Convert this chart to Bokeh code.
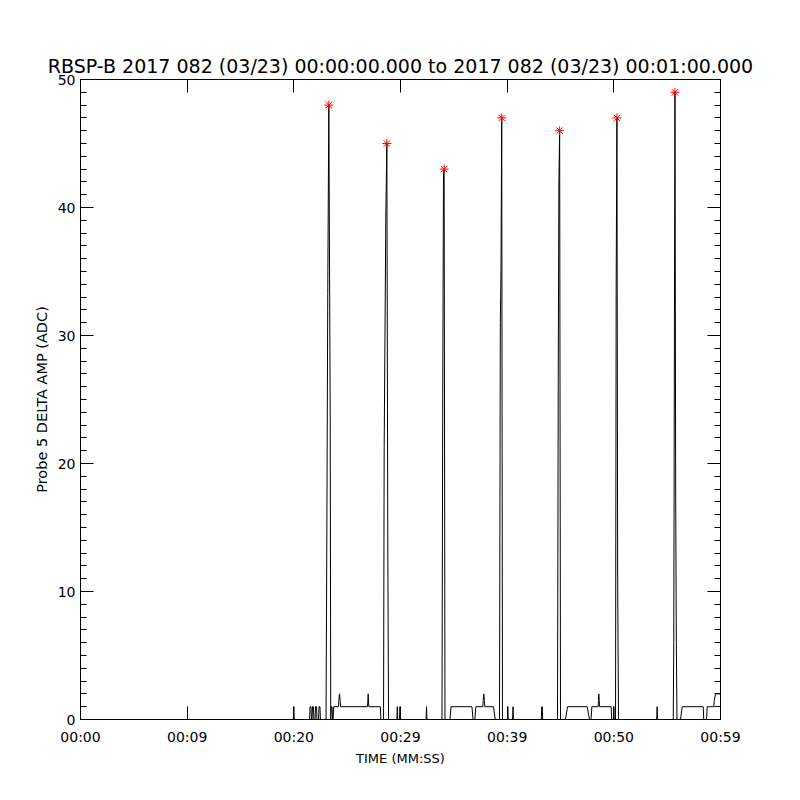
from bokeh.plotting import figure
from bokeh.models import LinearAxis, FixedTicker, Range1d, CustomLabelingPolicy
from bokeh.embed import file_html
from bokeh.resources import INLINE

# ---- data (seconds after 00:00:00, ADC) ----
t = [0.0, 19.96, 20.00, 20.04,
     21.48, 21.52, 21.61, 21.65, 21.71, 21.75, 21.84, 21.88,
     21.99, 22.03, 22.13, 22.17, 22.32, 22.36, 22.45, 22.49,
     23.02, 23.09, 23.18, 23.28, 23.41, 23.46,
     23.51, 23.58, 23.63, 23.68, 23.74,
     24.19, 24.22, 24.28, 24.34, 24.38,
     26.91, 26.97, 27.03,
     28.11, 28.16,
     28.41, 28.47, 28.62, 28.72, 28.81, 28.88,
     29.66, 29.70, 29.74, 29.91, 29.95, 29.99,
     32.40, 32.44, 32.48,
     33.89, 33.96, 34.03, 34.09, 34.17,
     34.64, 34.73, 36.70, 36.80,
     36.97, 37.06, 37.72, 37.75, 37.81, 37.86, 37.90, 38.72, 38.88,
     39.28, 39.36, 39.42, 39.49, 39.56,
     40.02, 40.06, 40.10, 40.51, 40.55, 40.59,
     43.20, 43.24, 43.29, 43.33,
     44.72, 44.79, 44.85, 44.92, 45.00,
     45.47, 45.66, 47.50, 47.72,
     47.86, 47.94, 48.53, 48.56, 48.59, 48.63, 48.66, 49.75, 49.80,
     49.96, 50.00, 50.04,
     50.16, 50.22, 50.29, 50.36, 50.44,
     54.02, 54.06, 54.10,
     55.57, 55.62, 55.68, 55.73, 55.80, 55.86, 55.92,
     56.25, 56.41, 58.38, 58.43,
     58.69, 58.75, 59.37, 59.42, 59.53, 60.0]
amp = [0, 0, 1, 0,
       0, 1, 1, 0, 0, 1, 1, 0,
       0, 1, 1, 0, 0, 1, 1, 0,
       0, 13.4, 33.3, 48, 23.7, 0,
       1, 1, 0, 0, 1,
       1, 1.5, 2, 1.5, 1,
       1, 2, 1,
       1, 0,
       0, 21.3, 39, 45, 13.4, 0,
       0, 1, 0, 0, 1, 0,
       0, 1, 0,
       0, 25.5, 42.5, 43, 0,
       0, 1, 1, 0,
       0, 1, 1, 1.5, 2, 1.5, 1, 1, 0,
       0, 31, 35, 47, 0,
       0, 1, 0, 0, 1, 0,
       0, 1, 1, 0,
       0, 27, 42, 46, 0,
       0, 1, 1, 0,
       0, 1, 1, 1.5, 2, 1.5, 1, 1, 0,
       0, 1, 0,
       0, 34, 47, 10.5, 0,
       0, 1, 0,
       0, 6, 30.5, 49, 17, 6, 0,
       0, 1, 1, 0,
       0, 1, 1, 1.5, 2, 2]

peak_t = [23.28, 28.72, 34.09, 39.49, 44.92, 50.29, 55.73]
peak_v = [48, 45, 43, 47, 46, 47, 49]

x_ticks = [0, 10, 20, 30, 40, 50, 60]
x_labels = ["00:00", "00:09", "00:20", "00:29", "00:39", "00:50", "00:59"]
y_ticks = [0, 10, 20, 30, 40, 50]
y_minor = list(range(0, 51))

FONT = "DejaVu Sans"

p = figure(width=800, height=800, output_backend="svg", toolbar_location=None,
           x_range=Range1d(0, 60), y_range=Range1d(0, 50),
           min_border_left=80, min_border_right=80, min_border_top=79, min_border_bottom=81,
           title="RBSP-B 2017 082 (03/23) 00:00:00.000 to 2017 082 (03/23) 00:01:00.000")

p.title.align = "center"
p.title.text_font = FONT
p.title.text_font_size = "19px"
p.title.text_font_style = "normal"
p.title.text_color = "black"
p.title.standoff = 5

p.grid.visible = False
p.outline_line_color = "black"
p.outline_line_width = 1
p.background_fill_color = "white"
p.border_fill_color = "white"

no_labels = CustomLabelingPolicy(code="""
    const all = [...indices]
    for (const i of all) indices.unset(i)
    return indices
""")

# bottom axis
xa = p.xaxis[0]
xa.ticker = FixedTicker(ticks=x_ticks, minor_ticks=[])
xa.major_label_overrides = {k: v for k, v in zip(x_ticks, x_labels)}
xa.major_tick_in = 13
xa.major_tick_out = 0
xa.minor_tick_in = 0
xa.minor_tick_out = 0
xa.major_label_standoff = 9
xa.major_label_text_font = FONT
xa.major_label_text_font_size = "14px"
xa.major_label_text_color = "black"
xa.axis_label = "TIME (MM:SS)"
xa.axis_label_text_font = FONT
xa.axis_label_text_font_size = "13px"
xa.axis_label_text_font_style = "normal"
xa.axis_label_text_color = "black"
xa.axis_label_standoff = 3
xa.axis_line_color = "black"

# left axis
ya = p.yaxis[0]
ya.ticker = FixedTicker(ticks=y_ticks, minor_ticks=y_minor)
ya.major_tick_in = 13
ya.major_tick_out = 0
ya.minor_tick_in = 6
ya.minor_tick_out = 0
ya.major_label_standoff = 5
ya.major_label_text_font = FONT
ya.major_label_text_font_size = "14px"
ya.major_label_text_color = "black"
ya.axis_label = "Probe 5 DELTA AMP (ADC)"
ya.axis_label_text_font = FONT
ya.axis_label_text_font_size = "14.5px"
ya.axis_label_text_font_style = "normal"
ya.axis_label_text_color = "black"
ya.axis_label_standoff = 5
ya.axis_line_color = "black"

# right axis (ticks only)
ra = LinearAxis(ticker=FixedTicker(ticks=y_ticks, minor_ticks=y_minor),
                major_tick_in=13, major_tick_out=0, minor_tick_in=6, minor_tick_out=0,
                major_label_policy=no_labels, major_label_standoff=0,
                major_label_text_font_size="0px",
                axis_line_color="black")
p.add_layout(ra, "right")

# top axis (ticks only)
ta = LinearAxis(ticker=FixedTicker(ticks=x_ticks, minor_ticks=[]),
                major_tick_in=13, major_tick_out=0, minor_tick_in=0, minor_tick_out=0,
                major_label_policy=no_labels, major_label_standoff=0,
                major_label_text_font_size="0px",
                axis_line_color="black")
p.add_layout(ta, "above")

p.line(t, amp, line_color="black", line_width=1)
p.scatter(peak_t, peak_v, marker="asterisk", size=9, line_color="red", line_width=1)

open("out.html", "w").write(file_html(p, INLINE))
